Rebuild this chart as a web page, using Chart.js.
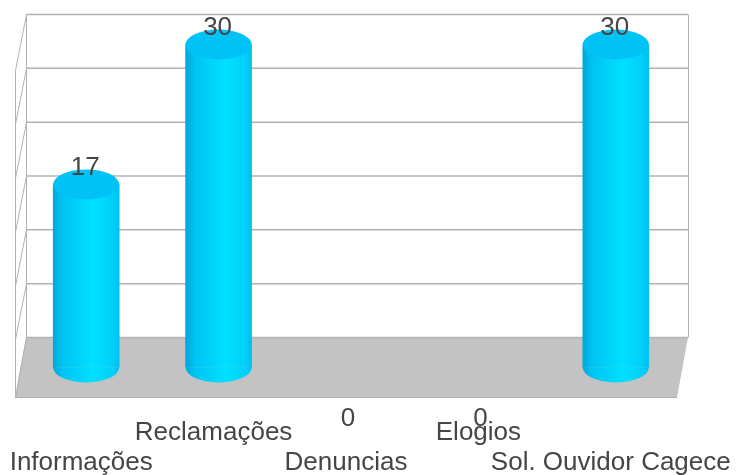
<!DOCTYPE html>
<html>
<head>
<meta charset="utf-8">
<style>
html,body{margin:0;padding:0;background:#fff}
#wrap{position:relative;width:736px;height:475px}
</style>
<script src="https://cdn.jsdelivr.net/npm/chart.js@4"></script>
</head>
<body>
<div id="wrap"><canvas id="c" width="736" height="475"></canvas></div>
<script>
// Ouvidoria requests per category
const categories = [["", "Informações"], ["Reclamações", ""], ["", "Denuncias"], ["Elogios", ""], ["", "Sol. Ouvidor Cagece"]];
const values = [17, 30, 0, 0, 30];
const axisMax = 30;
const axisStep = 5;

// Pseudo-3D box geometry: offsets between the floor front edge and the back wall
const wallDx = 11;
const barDx = 5;
const barDy = 30;
const floorDepth = 60;
const sideDepth = 56;
const capRy = 15;
const textColor = '#454545';
const lineColor = '#b2b2b2';

function line(ctx, x1, y1, x2, y2) {
  ctx.beginPath(); ctx.moveTo(x1, y1); ctx.lineTo(x2, y2); ctx.stroke();
}

// Back wall, side wall and floor, placed from the value scale
const boxPlugin = {
  id: 'box',
  beforeDatasetsDraw(chart) {
    const { ctx, chartArea: a, scales: { y } } = chart;
    const back = a.left + wallDx, right = a.right + wallDx;
    const floorY = y.getPixelForValue(0);
    ctx.save();
    ctx.fillStyle = '#c3c3c3';
    ctx.beginPath();
    ctx.moveTo(back, floorY); ctx.lineTo(right, floorY);
    ctx.lineTo(a.right, floorY + floorDepth); ctx.lineTo(a.left, floorY + floorDepth);
    ctx.closePath(); ctx.fill();
    ctx.strokeStyle = lineColor;
    for (let v = 0; v <= axisMax; v += axisStep) {
      const py = y.getPixelForValue(v);
      ctx.lineWidth = 1;
      if (v > 0) line(ctx, a.left + 0.5, py + sideDepth, back + 0.5, py);
      ctx.lineWidth = 1.5;
      line(ctx, back, py, right, py);
    }
    ctx.lineWidth = 1;
    const topY = y.getPixelForValue(axisMax);
    line(ctx, back + 0.5, topY, back + 0.5, floorY);
    line(ctx, right + 0.5, topY, right + 0.5, floorY);
    line(ctx, a.left + 0.5, topY + sideDepth, a.left + 0.5, floorY + floorDepth);
    line(ctx, a.left, floorY + floorDepth, a.right, floorY + floorDepth);
    line(ctx, back + 0.5, floorY, a.left + 0.5, floorY + floorDepth);
    ctx.restore();
  },
  // Bars are shifted forward onto the floor and capped with ellipses
  beforeDatasetDraw(chart) {
    chart.ctx.save();
    chart.ctx.translate(barDx, barDy);
  },
  afterDatasetDraw(chart, args) {
    const { ctx } = chart;
    const bars = chart.getDatasetMeta(args.index).data;
    bars.forEach((bar, i) => {
      if (!values[i]) return;
      const rx = bar.width / 2;
      ctx.fillStyle = sideGradient(ctx, bar.x, rx);
      ctx.beginPath();
      ctx.ellipse(bar.x, bar.base, rx, capRy, 0, 0, Math.PI);
      ctx.fill();
      ctx.fillStyle = '#00c2f7';
      ctx.beginPath();
      ctx.ellipse(bar.x, bar.y, rx, capRy, 0, 0, Math.PI * 2);
      ctx.fill();
    });
    ctx.restore();
  },
  afterDatasetsDraw(chart) {
    const { ctx } = chart;
    const bars = chart.getDatasetMeta(0).data;
    ctx.save();
    ctx.fillStyle = textColor;
    ctx.font = '26px "Liberation Sans", Arial, sans-serif';
    ctx.textAlign = 'center';
    ctx.textBaseline = 'middle';
    bars.forEach((bar, i) => {
      const ly = values[i] ? bar.y + barDy - 17 : bar.y + barDy + 51;
      const lx = values[i] ? bar.x + barDx - 1 : bar.x + barDx - 3;
      ctx.fillText(String(values[i]), lx, ly);
    });
    ctx.restore();
  }
};

function sideGradient(ctx, cx, rx) {
  const g = ctx.createLinearGradient(cx - rx, 0, cx + rx, 0);
  g.addColorStop(0, '#00a9d9');
  g.addColorStop(0.15, '#00c4f4');
  g.addColorStop(0.6, '#00e0ff');
  g.addColorStop(0.9, '#00d0fa');
  g.addColorStop(1, '#00c0ee');
  return g;
}

new Chart(document.getElementById('c'), {
  type: 'bar',
  data: {
    labels: categories,
    datasets: [{
      data: values,
      barThickness: 66,
      borderWidth: 0,
      clip: false,
      backgroundColor(ctx) {
        const chart = ctx.chart;
        const scale = chart.scales.x;
        if (ctx.dataIndex === undefined || !values[ctx.dataIndex]) return 'rgba(0,0,0,0)';
        const cx = scale ? scale.getPixelForValue(ctx.dataIndex) : NaN;
        return Number.isFinite(cx) ? sideGradient(chart.ctx, cx, 33) : '#00d0fa';
      }
    }]
  },
  options: {
    responsive: false,
    animation: false,
    events: [],
    layout: { padding: { left: 15, right: 59, top: 14.5, bottom: 0 } },
    plugins: { legend: { display: false }, tooltip: { enabled: false }, title: { display: false } },
    scales: {
      x: {
        grid: { display: false, drawTicks: false },
        border: { display: false },
        afterFit(scale) {
          scale.height = 137.5;
          // The long last label may overhang the plot without squeezing it
          scale.paddingLeft = 0;
          scale.paddingRight = 0;
        },
        ticks: {
          maxRotation: 0, minRotation: 0, autoSkip: false, padding: 80,
          color: textColor,
          font: { family: '"Liberation Sans", Arial, sans-serif', size: 26, lineHeight: '30px' }
        }
      },
      y: {
        min: 0, max: axisMax,
        grid: { display: false, drawTicks: false },
        border: { display: false },
        afterFit(scale) { scale.width = 0; },
        ticks: { display: false, stepSize: axisStep }
      }
    }
  },
  plugins: [boxPlugin]
});
</script>
</body>
</html>
